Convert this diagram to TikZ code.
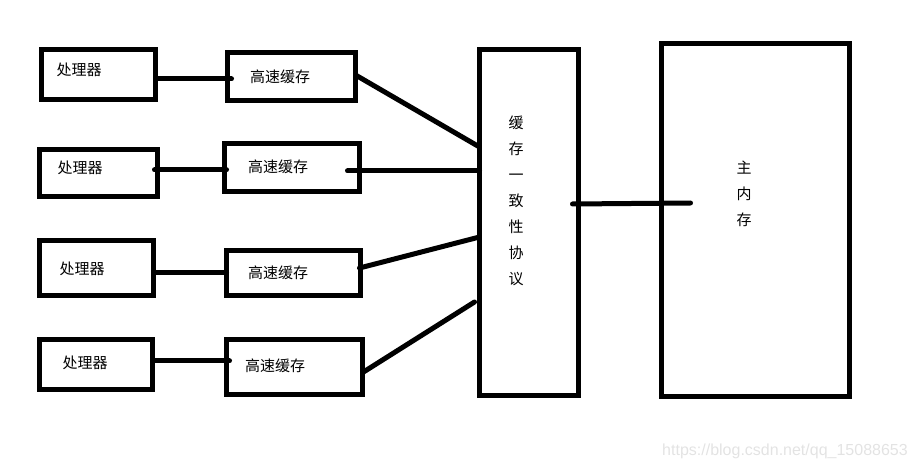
\documentclass[tikz,border=0pt]{standalone}
\usepackage{fontspec}
\usepackage{tikz}
\newfontfamily\cjk{Noto Sans CJK SC}
\newfontfamily\wmfont{Liberation Sans}

\begin{document}
\begin{tikzpicture}[x=1pt, y=-1pt,
	box/.style={shape=rectangle, draw=black, line width=5pt, inner sep=0pt},
	txt/.style={font=\cjk\fontsize{15}{26}\selectfont, inner sep=0pt, align=center},
	link/.style={line width=5pt, line cap=round}]

	\useasboundingbox (0,0) rectangle (916,470);

	% processors
	\node[box, minimum width=114, minimum height=50] (p1) at (98.5, 74.5) {};
	\node[box, minimum width=118, minimum height=47] (p2) at (98.5, 173)  {};
	\node[box, minimum width=114, minimum height=55] (p3) at (96.5, 268)  {};
	\node[box, minimum width=113, minimum height=50] (p4) at (96, 364.5)  {};
	\node[txt] (p1t) at (79, 70)  {处理器};
	\node[txt] (p2t) at (80, 168) {处理器};
	\node[txt] (p3t) at (82, 269) {处理器};
	\node[txt] (p4t) at (85, 363) {处理器};

	% caches
	\node[box, minimum width=128, minimum height=48] (c1) at (291.5, 76.5) {};
	\node[box, minimum width=135, minimum height=48] (c2) at (292, 167.5)  {};
	\node[box, minimum width=134, minimum height=45] (c3) at (293.5, 273)  {};
	\node[box, minimum width=136, minimum height=55] (c4) at (294.5, 367)  {};
	\node[txt] (c1t) at (280, 77)  {高速缓存};
	\node[txt] (c2t) at (278, 167) {高速缓存};
	\node[txt] (c3t) at (278, 273) {高速缓存};
	\node[txt] (c4t) at (275, 366) {高速缓存};

	% protocol and memory
	\node[box, minimum width=99, minimum height=346]  (pr)  at (529, 222.5) {};
	\node[box, minimum width=188, minimum height=353] (mem) at (755.5, 220) {};
	\node[txt] (prt)  at (516, 200.5) {缓\\存\\一\\致\\性\\协\\议};
	\node[txt] (memt) at (744, 194)   {主\\内\\存};

	\path[link] ([yshift=-4.5]p1.east) edge ([xshift=6.5, yshift=-2.5]c1.west);
	\path[link] ([xshift=-5.5, yshift=3]p2.east) edge ([xshift=4.5, yshift=-2.5]c2.west);
	\path[link] ([xshift=-1.5, yshift=-5]p3.east) edge ([xshift=2.5]c3.west);
	\path[link] ([xshift=-0.5, yshift=3.5]p4.east) edge ([xshift=5.5, yshift=6]c4.west);

	\path[link] ([xshift=-2.5, yshift=1.5]c1.east) edge ([xshift=2.5, yshift=75.5]pr.west);
	\path[link] ([xshift=-14.5, yshift=-3.5]c2.east) edge ([xshift=2.5, yshift=51.5]pr.west);
	\path[link] ([xshift=-3.5, yshift=5]c3.east) edge ([xshift=2.5, yshift=-14.5]pr.west);
	\path[link] ([xshift=-1.5, yshift=-5]c4.east) edge ([xshift=-2.5, yshift=-79.5]pr.west);

	\path[link] ([xshift=-8.5, yshift=18.5]pr.east) edge ([xshift=31.5, yshift=17]mem.west);

	\node[font=\wmfont\fontsize{16}{18}\selectfont, text=gray!22, inner sep=0pt] (wm) at (785, 451) {https://blog.csdn.net/qq\_15088653};

\end{tikzpicture}
\end{document}
